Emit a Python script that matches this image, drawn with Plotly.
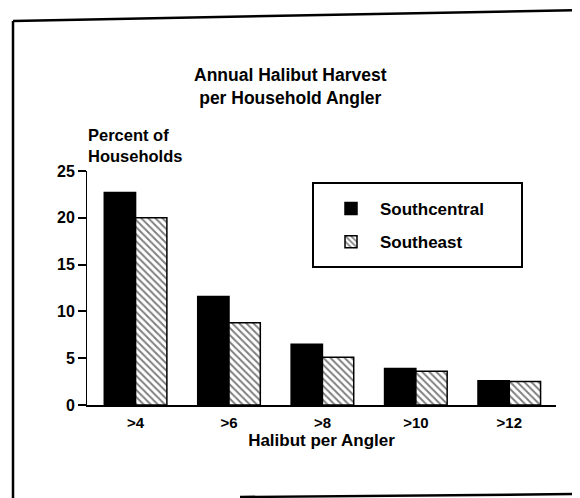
import plotly.graph_objects as go

categories = [">4", ">6", ">8", ">10", ">12"]
southcentral = [22.7, 11.6, 6.5, 3.9, 2.6]
southeast = [20.0, 8.8, 5.1, 3.6, 2.5]
y_ticks = [0, 5, 10, 15, 20, 25]

# page has an 8px body margin; figure sized to fit the 580x498 window
OFF = 8
W, H = 580 - OFF, 498 - OFF
L, R, T, B = 87 - OFF, 24, 171 - OFF, 93
PW, PH = W - L - R, H - T - B

def px(x):  # page pixel -> paper
    return (x - OFF - L) / PW

def py(y):
    return (H - B - (y - OFF)) / PH

FONT = "Liberation Sans, Arial, Helvetica, sans-serif"

fig = go.Figure()
fig.add_trace(go.Bar(
    x=categories, y=southcentral, name="Southcentral", legendgroup="a",
    marker=dict(color="black", line=dict(color="black", width=1.5)),
))
fig.add_trace(go.Bar(
    x=categories, y=southeast, name="Southeast", legendgroup="b",
    marker=dict(color="white", line=dict(color="black", width=1.5),
                pattern=dict(shape="\\", fgcolor="black", bgcolor="white",
                             size=5, solidity=0.4)),
))

shapes = [
    # page frame
    dict(type="line", xref="paper", yref="paper", x0=px(13), y0=py(21), x1=px(13), y1=py(500),
         line=dict(color="black", width=2.5)),
    dict(type="line", xref="paper", yref="paper", x0=px(13), y0=py(21), x1=px(585), y1=py(10),
         line=dict(color="black", width=2.5)),
    dict(type="line", xref="paper", yref="paper", x0=px(240), y0=py(497), x1=px(585), y1=py(494),
         line=dict(color="black", width=2.5)),
    # legend box
    dict(type="rect", xref="paper", yref="paper", x0=px(313), y0=py(267), x1=px(522), y1=py(183),
         line=dict(color="black", width=2), fillcolor="rgba(0,0,0,0)", layer="above"),
]

annotations = [
    dict(text="<b>Annual Halibut Harvest<br>per Household Angler</b>", xref="paper", yref="paper",
         x=px(290), y=py(87), xanchor="center", yanchor="middle", showarrow=False,
         font=dict(size=17.5, color="black", family=FONT), align="center"),
    dict(text="<b>Percent of<br>Households</b>", xref="paper", yref="paper",
         x=px(86), y=py(145), xanchor="left", yanchor="middle", showarrow=False,
         font=dict(size=16.5, color="black", family=FONT), align="left"),
]

fig.update_layout(
    width=W, height=H,
    margin=dict(l=L, r=R, t=T, b=B),
    paper_bgcolor="white", plot_bgcolor="white",
    barmode="group", bargap=0.33, bargroupgap=0,
    font=dict(family=FONT, color="black", size=15),
    shapes=shapes, annotations=annotations,
    showlegend=True,
    legend=dict(
        x=px(322), y=py(191), xanchor="left", yanchor="top",
        borderwidth=0, bgcolor="rgba(0,0,0,0)",
        font=dict(size=17, family=FONT, color="black", weight="bold"),
        tracegroupgap=8, traceorder="grouped",
        itemwidth=48,
    ),
    xaxis=dict(
        range=[-0.52, 4.5], showline=True, linecolor="black", linewidth=2,
        ticks="", showgrid=False, zeroline=False,
        tickfont=dict(size=15, family=FONT, color="black", weight="bold"),
        ticklabelstandoff=3,
        title=dict(text="<b>Halibut per Angler</b>", font=dict(size=17, family=FONT), standoff=3),
    ),
    yaxis=dict(
        range=[0, 25], tickvals=y_ticks, showline=True, linecolor="black", linewidth=1,
        ticks="outside", ticklen=8, tickcolor="black", tickwidth=1.5,
        showgrid=False, zeroline=False,
        tickfont=dict(size=16, family=FONT, color="black", weight="bold"),
    ),
)

fig.write_html("out.html")
